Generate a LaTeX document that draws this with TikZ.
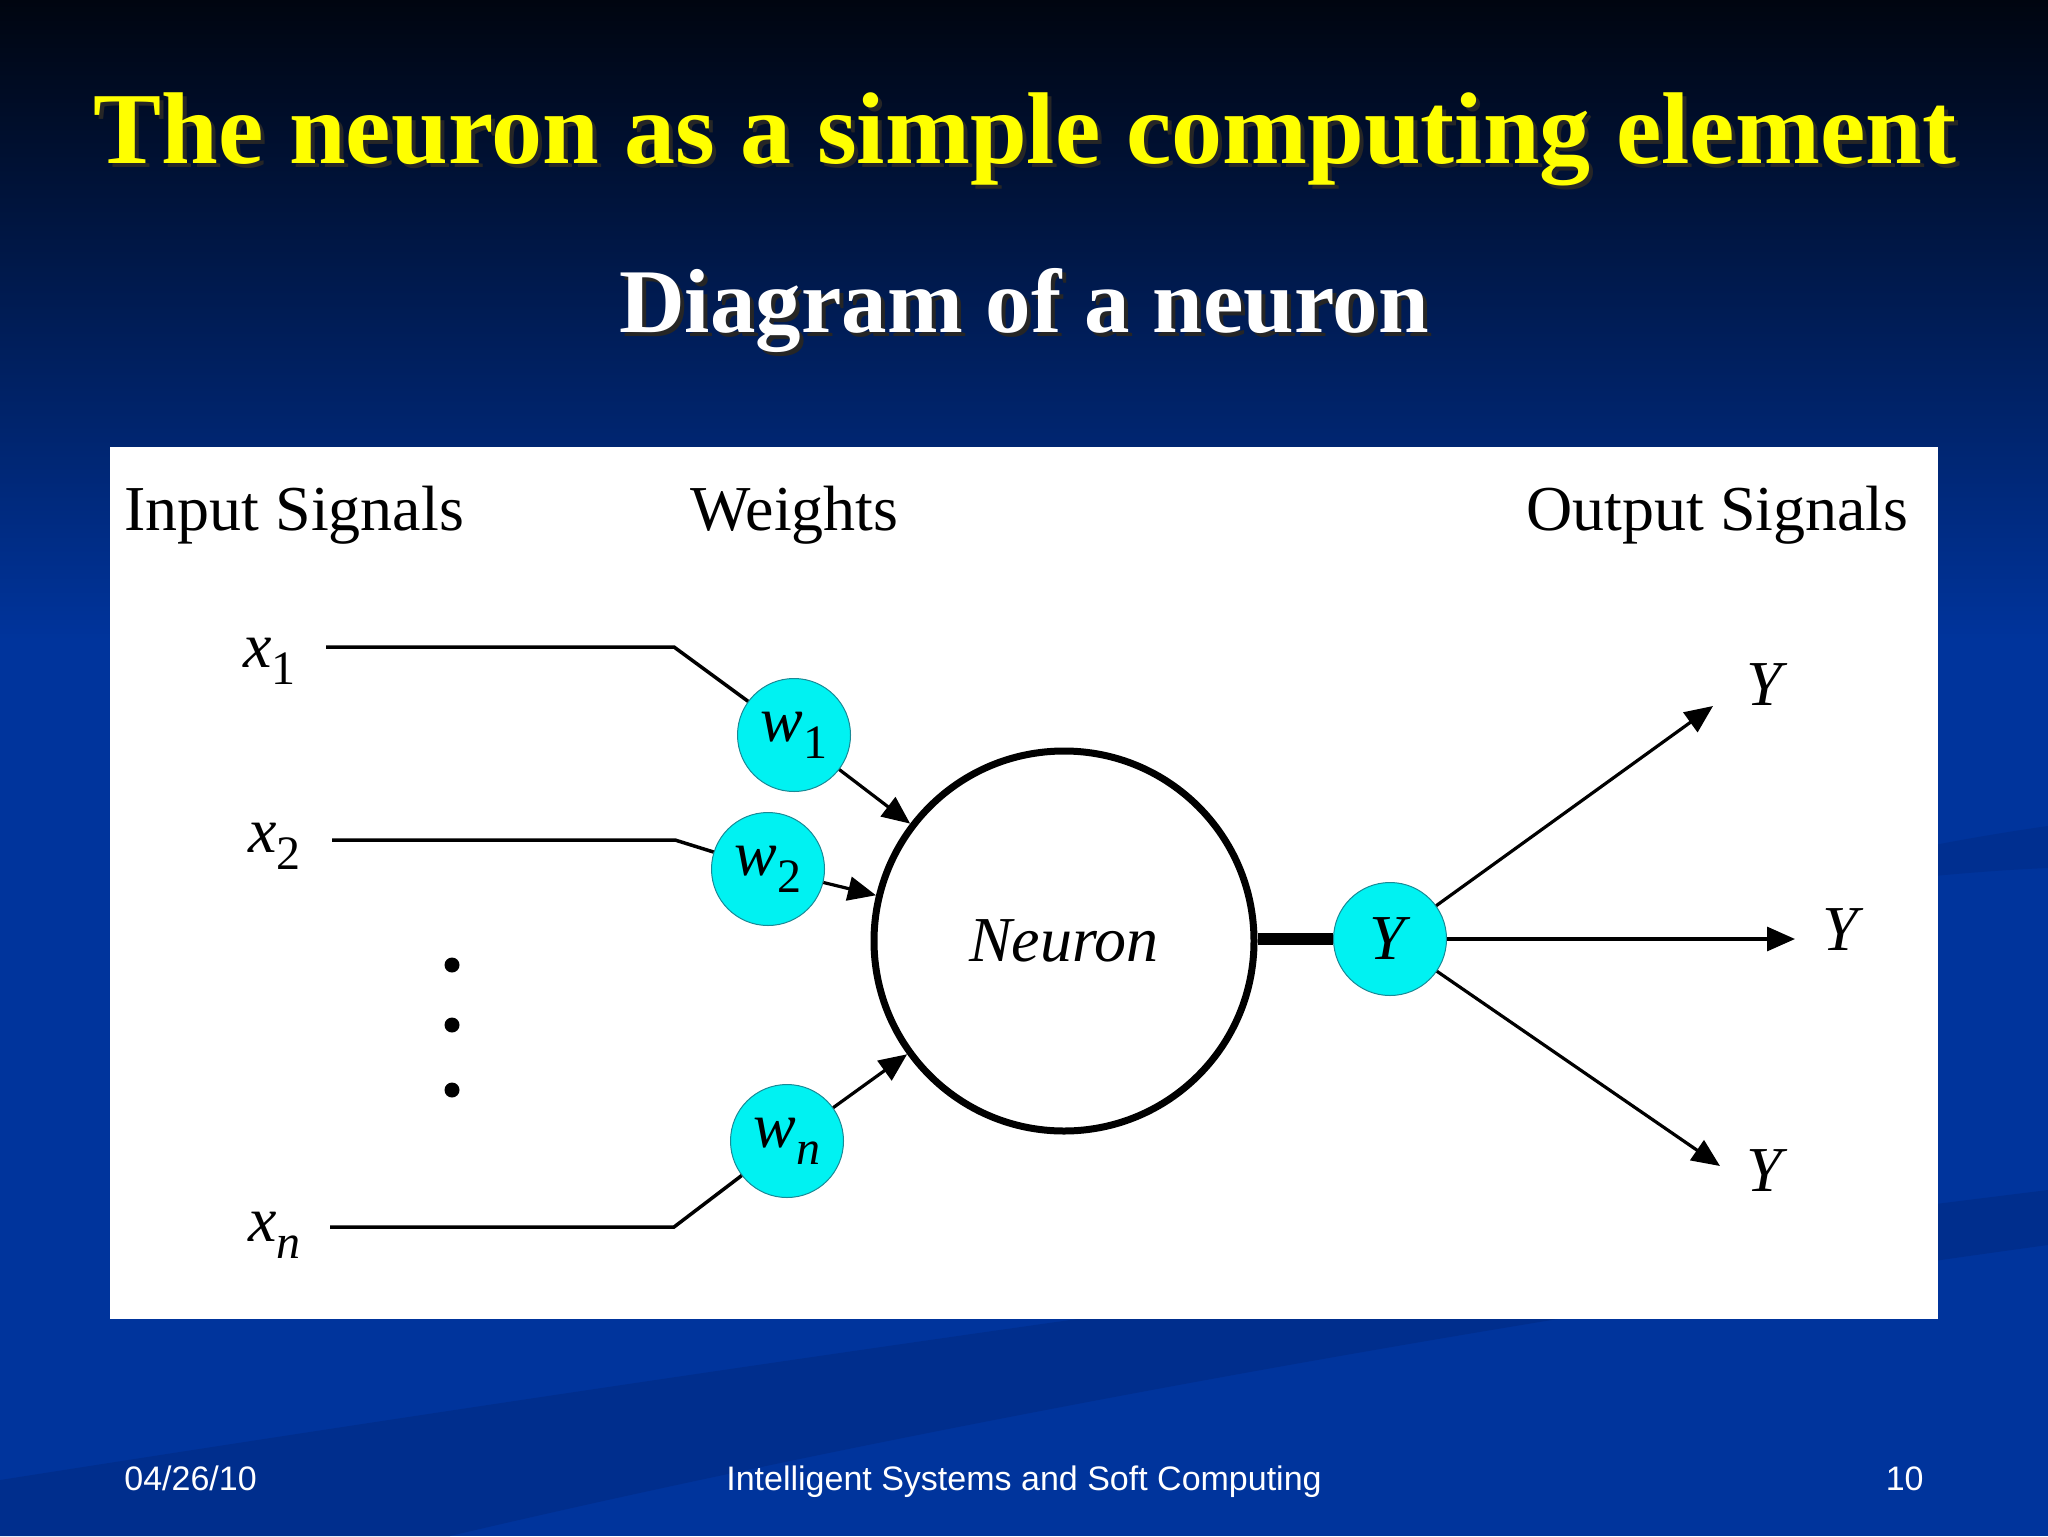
\documentclass[tikz,border=0pt]{standalone}
\usepackage{fontspec}
\setmainfont{Liberation Serif}
\newfontfamily\arialfont{Liberation Sans}
\usetikzlibrary{arrows.meta}
\definecolor{bgtop}{HTML}{000510}
\definecolor{bgblue}{HTML}{00349C}
\definecolor{bgdark}{HTML}{002C88}
\definecolor{wcyan}{HTML}{00F2F2}
\definecolor{wedge}{HTML}{1A8A96}
\definecolor{ttlyellow}{HTML}{FFFF00}
\newcommand{\subl}[2]{\textit{#1}\raisebox{-0.27em}{\fontsize{24}{24}\selectfont #2}}
\begin{document}
\begin{tikzpicture}[x=0.5pt,y=-0.5pt,
  lbl/.style={inner sep=0pt, font=\fontsize{32}{38}\selectfont},
  wt/.style={circle, fill=wcyan, draw=wedge, line width=0.5pt, minimum size=56.5pt, inner sep=0pt, font=\fontsize{32}{38}\selectfont},
  inline/.style={line width=1.75pt, line join=miter},
  arr/.style={line width=1.6pt, -{Triangle[length=14pt,width=12pt]}},
  foot/.style={inner sep=0pt, text=white, font=\arialfont\fontsize{17}{20}\selectfont}]
% background
\useasboundingbox (0,0) rectangle (2048,1536);
\fill[bgblue] (0,0) rectangle (2048,1536);
\shade[top color=bgtop, bottom color=bgblue] (0,0) rectangle (2048,640);
\fill[bgdark, opacity=0.7] (0,1536) -- (0,1480) .. controls (700,1370) and (1400,1270) .. (2048,1190) -- (2048,1245) .. controls (1500,1320) and (900,1430) .. (450,1536) -- cycle;
\fill[bgdark, opacity=0.6] (1700,900) .. controls (1850,860) and (1950,840) .. (2048,826) -- (2048,868) .. controls (1950,872) and (1850,885) .. (1700,900) -- cycle;
% white panel
\fill[white] (110,447) rectangle (1938,1319);
% titles
\node[anchor=base, inner sep=0pt, text=black!85, font=\bfseries\fontsize{51}{60}\selectfont] (titleshadow) at (1029,167) {The neuron as a simple computing element};
\node[anchor=base, inner sep=0pt, text=ttlyellow, font=\bfseries\fontsize{51}{60}\selectfont] (title) at (1025,163) {The neuron as a simple computing element};
\node[anchor=base, inner sep=0pt, text=black!85, font=\bfseries\fontsize{45.5}{54}\selectfont] (subshadow) at (1028,336) {Diagram of a neuron};
\node[anchor=base, inner sep=0pt, text=white, font=\bfseries\fontsize{45.5}{54}\selectfont] (subtitle) at (1024,332) {Diagram of a neuron};
% headers
\node[lbl, anchor=base west] (hin) at (124,530) {Input Signals};
\node[lbl, anchor=base west] (hw) at (690,530) {Weights};
\node[lbl, anchor=base east] (hout) at (1909,530) {Output Signals};
% input labels
\node[lbl, anchor=base west] (lx1) at (243,667) {\subl{x}{1}};
\node[lbl, anchor=base west] (lx2) at (248,852) {\subl{x}{2}};
\node[lbl, anchor=base west] (lxn) at (248,1241) {\subl{x}{\textit{n}}};
% dots
\fill (452,965) circle (7.5) (452,1025) circle (7.5) (452,1090) circle (7.5);
% weights
\node[wt] (w1) at (794,735) {\subl{w}{1}};
\node[wt] (w2) at (768,869) {\subl{w}{2}};
\node[wt] (wn) at (787,1141) {\subl{w}{\textit{n}}};
% neuron
\node[circle, draw, line width=3.5pt, minimum size=190pt, inner sep=0pt, font=\itshape\fontsize{32}{38}\selectfont] (neuron) at (1064,941) {Neuron};
\node[wt] (Y) at (1390,939) {\textit{Y}};
% input lines
\coordinate (x1s) at (326,647); \coordinate (x1b) at (674,647);
\coordinate (x2s) at (332,840); \coordinate (x2b) at (675,840);
\coordinate (xns) at (330,1227); \coordinate (xnb) at (674,1227);
\draw[inline] (x1s) -- (x1b) -- (w1);
\draw[inline] (x2s) -- (x2b) -- (w2);
\draw[inline] (xns) -- (xnb) -- (wn);
% weights to neuron
\draw[arr] (w1) -- (neuron);
\draw[arr] (w2) -- (neuron);
\draw[arr] (wn) -- (neuron);
% neuron to output
\draw[line width=6pt] (neuron.east |- Y.west) -- (Y.west);
\coordinate (tu) at (1713,706);
\coordinate (tm) at (1795,939);
\coordinate (td) at (1720,1166);
\draw[arr] (Y) -- (tu);
\draw[arr] (Y.east) -- (tm);
\draw[arr] (Y) -- (td);
\node[lbl, anchor=base west] (yu) at (1746,705) {\textit{Y}};
\node[lbl, anchor=base west] (ym) at (1822,950) {\textit{Y}};
\node[lbl, anchor=base west] (yd) at (1746,1191) {\textit{Y}};
% footer
\node[foot, anchor=base west] (fdate) at (124,1490) {04/26/10};
\node[foot, anchor=base] (fcourse) at (1024,1490) {Intelligent Systems and Soft Computing};
\node[foot, anchor=base east] (fpage) at (1924,1490) {10};
\end{tikzpicture}
\end{document}
